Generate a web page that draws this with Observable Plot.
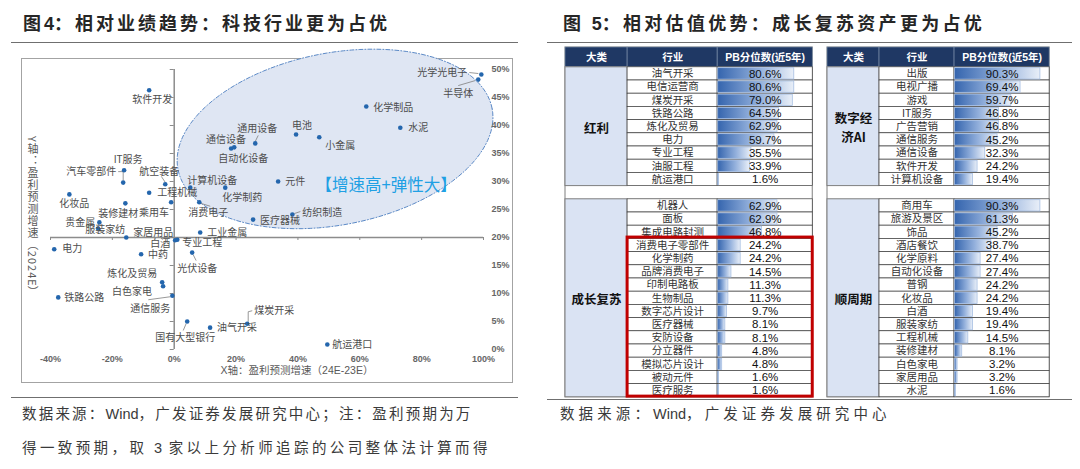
<!DOCTYPE html>
<html><head><meta charset="utf-8">
<script src="https://cdn.jsdelivr.net/npm/d3@7"></script>
<script src="https://cdn.jsdelivr.net/npm/@observablehq/plot@0.6"></script>
<style>
body{margin:0;width:1080px;height:469px;background:#fff;position:relative;overflow:hidden;font-family:"Noto Sans CJK SC",sans-serif;}
.abs{position:absolute;}
.title{font-size:18px;line-height:26px;font-weight:bold;color:#262626;letter-spacing:3px;white-space:nowrap;}
.hline{position:absolute;height:0;border-top:1.5px solid #6f6f6f;}
.src{font-size:14.5px;line-height:20px;color:#3a3a3a;letter-spacing:2.2px;white-space:nowrap;}
.lat{font-family:"Liberation Sans",Arial,sans-serif;letter-spacing:0;}
#ytitle{writing-mode:vertical-rl;text-orientation:mixed;font-size:11px;line-height:16px;letter-spacing:1px;color:#595959;white-space:nowrap;}
</style></head><body>
<div class="abs title" style="left:23px;top:9px">图<span class="lat">4</span>：相对业绩趋势：科技行业更为占优</div>
<div class="hline" style="left:11px;top:42px;width:507px"></div>
<div class="abs" style="left:21px;top:58px;width:490px;height:323px;border:1.5px solid #a3a3a3"></div>
<div id="scatter" class="abs" style="left:21px;top:58px"></div>
<div id="ytitle" class="abs" style="left:25px;top:136px"></div>
<div class="hline" style="left:11px;top:397px;width:507px"></div>
<div class="abs src" style="left:22px;top:403px">数据来源：<span class="lat">Wind</span>，广发证券发展研究中心；注：盈利预期为万</div>
<div class="abs src" style="left:22px;top:437px;letter-spacing:3.4px">得一致预期，取 <span class="lat">3</span> 家以上分析师追踪的公司整体法计算而得</div>

<div class="abs title" style="left:563px;top:9px;letter-spacing:3.3px">图 <span class="lat">5</span>：相对估值优势：成长复苏资产更为占优</div>
<div class="hline" style="left:547px;top:42px;width:525px"></div>
<div id="tableL" class="abs" style="left:564px;top:46px"></div>
<div id="tableR" class="abs" style="left:826px;top:46px"></div>
<div class="hline" style="left:547px;top:399px;width:525px"></div>
<div class="abs src" style="left:560px;top:403px;letter-spacing:4.1px">数据来源：<span class="lat">Wind</span>，广发证券发展研究中心</div>

<script>
// ---------------- Data: left scatter ----------------
const industries = ["软件开发","IT服务","汽车零部件","航空装备","工程机械","化妆品","装修建材","乘用车","计算机设备","化学制药",
  "消费电子","通信设备","自动化设备","通用设备","电池","小金属","化学制品","水泥","光学光电子","半导体",
  "元件","纺织制造","医疗器械","贵金属","服装家纺","家居用品","白酒","专业工程","工业金属","电力",
  "中药","光伏设备","炼化及贸易","白色家电","通信服务","铁路公路","国有大型银行","油气开采","煤炭开采","航运港口"];
// X: 盈利预测增速 (24E-23E), %
const growthChange = [-8.1,-16.2,-16.5,-2.9,-8.1,-33.9,-15.8,-1.0,5.2,16.5,
  8.1,18.4,19.4,26.2,39.4,46.9,62.1,73.1,99.3,98.3,
  33.6,38.2,25.5,-24.2,-24.6,-15.5,0.3,1.0,8.4,-38.8,
  -10.7,5.8,-3.9,-3.6,-0.6,-37.5,4.2,11.6,23.6,49.5];
// Y: 盈利预测增速 (2024E), %
const growth2024 = [46.3,32.0,29.8,29.5,28.0,27.7,26.1,26.3,28.9,28.9,
  26.3,35.9,36.1,36.8,38.4,37.9,43.4,39.6,49.1,48.2,
  30.0,24.1,23.2,22.7,21.6,20.0,19.5,19.6,20.9,17.9,
  17.0,17.3,12.0,11.3,9.6,9.3,5.0,3.9,4.6,0.9];
const xTicks = [-40,-20,0,20,40,60,80,100];
const yTicks = [0,5,10,15,20,25,30,35,40,45,50];
const xTitle = "X轴：盈利预测增速（24E-23E）";
const yTitle = "Y轴：盈利预测增速（2024E）";
const zoneText = "【增速高+弹性大】";

// ---------------- Data: right table ----------------
const hongliNames = ["油气开采","电信运营商","煤炭开采","铁路公路","炼化及贸易","电力","专业工程","油服工程","航运港口"];
const hongliPB = [80.6,80.6,79.0,64.5,62.9,59.7,35.5,33.9,1.6];
const growthNames = ["机器人","面板","集成电路封测","消费电子零部件","化学制药","品牌消费电子","印制电路板","生物制品","数字芯片设计","医疗器械","安防设备","分立器件","模拟芯片设计","被动元件","医疗服务"];
const growthPB = [62.9,62.9,46.8,24.2,24.2,14.5,11.3,11.3,9.7,8.1,8.1,4.8,4.8,1.6,1.6];
const digitalNames = ["出版","电视广播","游戏","IT服务","广告营销","通信服务","通信设备","软件开发","计算机设备"];
const digitalPB = [90.3,69.4,59.7,46.8,46.8,45.2,32.3,24.2,19.4];
const cyclicalNames = ["商用车","旅游及景区","饰品","酒店餐饮","化学原料","自动化设备","普钢","化妆品","白酒","服装家纺","工程机械","装修建材","白色家电","家居用品","水泥"];
const cyclicalPB = [90.3,61.3,45.2,38.7,27.4,27.4,24.2,24.2,19.4,19.4,14.5,8.1,3.2,3.2,1.6];
const headers = ["大类","行业","PB分位数(近5年)"];
const highlightFrom = "消费电子零部件", highlightTo = "医疗服务";

// ---------------- Layout (kept apart from the data) ----------------
// label placement relative to the point: [dx px, dy px, anchor]
const labelLayout = {
 "软件开发":[3,10,"middle"],"IT服务":[4,-11,"middle"],"汽车零部件":[-7,-11,"end"],"航空装备":[-6,-13,"middle"],
 "工程机械":[8,0,"start"],"化妆品":[5,9,"middle"],"装修建材":[13,10,"end"],"乘用车":[-32,11,"start"],
 "计算机设备":[-3,-7,"start"],"化学制药":[-3,10,"start"],"消费电子":[-11,11,"start"],"通信设备":[-5,-9,"middle"],
 "自动化设备":[9,11,"middle"],"通用设备":[2,-15,"middle"],"电池":[6,-9,"middle"],"小金属":[6,9,"start"],
 "化学制品":[7,1,"start"],"水泥":[8,0,"start"],"光学光电子":[-14,-2,"end"],"半导体":[-5,14,"end"],
 "元件":[7,0,"start"],"纺织制造":[10,-2,"start"],"医疗器械":[7,1,"start"],"贵金属":[-4,0,"end"],
 "服装家纺":[-13,1,"start"],"家居用品":[7,-5,"start"],"白酒":[-5,3,"end"],"专业工程":[5,3,"start"],
 "工业金属":[7,0,"start"],"电力":[8,0,"start"],"中药":[7,0,"start"],"光伏设备":[-15,16,"start"],
 "炼化及贸易":[-5,-9,"end"],"白色家电":[-11,6,"end"],"通信服务":[-2,13,"end"],"铁路公路":[6,0,"start"],
 "国有大型银行":[-2,16,"middle"],"油气开采":[7,0,"start"],"煤炭开采":[7,-13,"start"],"航运港口":[5,0,"start"]
};
// leader segments relative to the point: [name, dx1, dy1, dx2, dy2]
const leaderLayout = [
 ["汽车零部件",-5,-11,0,-11],["汽车零部件",0,-11,0,-2],["航空装备",-4,-8,0,-2],["消费电子",1,1,11,4],
 ["通用设备",0,-2,3,-8],["光学光电子",-3,-1,-12,-2],["半导体",-3,1,-20,6],["纺织制造",2,-1,8,-3],
 ["光伏设备",1,2,4,8],["通信服务",-2,1,-24,4],["国有大型银行",-1,2,-4,9],["煤炭开采",1,-2,1,-12],["煤炭开采",1,-12,5,-13]
];
// annotation ellipse (data units for centre, px for radii), tilt in degrees
const zone = {cx: 52, cy: 37.6, a: 160, b: 86, tilt: 11, textX: 68.5, textY: 29.3};

// ---------------- Left scatter ----------------
const W = 492, H = 325, mL = 29, mR = 30, mT = 11, mB = 34;
const xDom = [-40, 100], yDom = [0, 50];
const kx = (W - mL - mR) / (xDom[1] - xDom[0]);
const ky = (H - mT - mB) / (yDom[1] - yDom[0]);
const pts = industries.map((n, i) => ({name: n, x: growthChange[i], y: growth2024[i]}));
const byName = Object.fromEntries(pts.map(d => [d.name, d]));
const labels = pts.map(d => {
  const [dx, dy, anchor] = labelLayout[d.name];
  return {name: d.name, lx: d.x + dx / kx, ly: d.y - dy / ky, anchor};
});
const leaders = leaderLayout.map(([n, a, b, c, e]) => {
  const p = byName[n];
  return {x1: p.x + a / kx, y1: p.y - b / ky, x2: p.x + c / kx, y2: p.y - e / ky};
});
const ell = d3.range(0, 121).map(i => {
  const t = i / 120 * 2 * Math.PI, f = zone.tilt * Math.PI / 180;
  const px = zone.a * Math.cos(t) * Math.cos(f) - zone.b * Math.sin(t) * Math.sin(f);
  const py = zone.a * Math.cos(t) * Math.sin(f) + zone.b * Math.sin(t) * Math.cos(f);
  return {x: zone.cx + px / kx, y: zone.cy + py / ky};
});
const labelFont = "'Noto Sans CJK SC', sans-serif";
const textMark = (anchor) => Plot.text(labels.filter(d => d.anchor === anchor), {
  x: "lx", y: "ly", text: "name", textAnchor: anchor, fontSize: 10, fill: "#4d4d4d",
  fontFamily: labelFont, ariaLabel: "lbl"
});
const scatter = Plot.plot({
  width: W, height: H, marginLeft: mL, marginRight: mR, marginTop: mT, marginBottom: mB,
  style: {fontFamily: "'Liberation Sans', Arial, sans-serif", fontSize: "9px", color: "#595959", background: "transparent", overflow: "visible"},
  x: {domain: xDom, label: null, axis: null},
  y: {domain: yDom, label: null, axis: null},
  marks: [
    Plot.line(ell, {x: "x", y: "y", fill: "#dfe6f3", stroke: "#5b89c6", strokeWidth: 1, strokeDasharray: "4,2,1,2"}),
    Plot.text([zoneText], {x: zone.textX, y: zone.textY, text: d => d, fill: "#20a0e4", fontSize: 16.5, fontFamily: labelFont, ariaLabel: "zone"}),
    Plot.ruleX([0], {y1: yDom[0], y2: yDom[1], stroke: "#8c8c8c", strokeWidth: 1.5}),
    Plot.ruleY([20], {x1: xDom[0], x2: xDom[1], stroke: "#8c8c8c", strokeWidth: 1.5}),
    Plot.ruleY(yTicks, {x1: 0, x2: -4 / kx, stroke: "#8c8c8c", strokeWidth: 1}),
    Plot.ruleX(xTicks.filter(d => d !== 0), {y1: 20, y2: 20 - 3 / ky, stroke: "#8c8c8c", strokeWidth: 1}),
    Plot.axisX({ticks: xTicks, tickSize: 0, tickPadding: 6, tickFormat: d => d + "%", label: null, fill: "#666", fontWeight: "bold"}),
    Plot.axisY({anchor: "right", ticks: yTicks, tickSize: 0, tickPadding: 8, tickFormat: d => d + "%", label: null, fill: "#666", fontWeight: "bold"}),
    Plot.link(leaders, {x1: "x1", y1: "y1", x2: "x2", y2: "y2", stroke: "#7f7f7f", strokeWidth: 0.8}),
    Plot.dot(pts, {x: "x", y: "y", r: 2.3, fill: "#2466ad"}),
    textMark("start"), textMark("middle"), textMark("end"),
    Plot.text([xTitle], {frameAnchor: "bottom", dy: 24, dx: 30, text: d => d, fontSize: 10.5, fill: "#595959", fontFamily: "'Liberation Sans', 'Noto Sans CJK SC', sans-serif", ariaLabel: "xtitle"})
  ]
});
document.getElementById("scatter").appendChild(scatter);
document.getElementById("ytitle").textContent = yTitle;
scatter.querySelectorAll('g[aria-label="lbl"] text').forEach(t => t.style.letterSpacing = "0.9px");
scatter.querySelectorAll('g[aria-label="zone"] text').forEach(t => t.style.letterSpacing = "1.5px");
scatter.querySelectorAll('g[aria-label="xtitle"] text').forEach(t => t.style.letterSpacing = "1px");

// ---------------- Right tables ----------------
function tableHalf(groups, catW, indW, gradId, highlight) {
  const unitPx = 0.951, rowPx = 13.2, head = 1.5;
  const x0 = -(catW + indW), xi = x0 + catW;
  const rows = [], cats = [];
  let y = head;
  groups.forEach((g, gi) => {
    if (gi > 0) y += 1;
    const y0 = y;
    g.names.forEach((n, i) => { rows.push({name: n, value: g.values[i], y1: y, y2: y + 1}); y += 1; });
    cats.push({label: g.label, y1: y0, y2: y});
  });
  const total = y;
  const hd = [{t: headers[0], x1: x0, x2: xi}, {t: headers[1], x1: xi, x2: 0}, {t: headers[2], x1: 0, x2: 100}];
  const marks = [
    Plot.rect([0], {x1: x0, x2: 100, y1: 0, y2: total, fill: "white", stroke: "#7f7f7f", strokeWidth: 1}),
    Plot.rect(hd, {x1: "x1", x2: "x2", y1: 0, y2: head, fill: "#1f3864", stroke: "#8497b0", strokeWidth: 0.6}),
    Plot.text(hd, {x: d => (d.x1 + d.x2) / 2, y: head / 2, text: "t", fill: "white", fontWeight: "bold", fontSize: 10.5, fontFamily: "'Liberation Sans','Noto Sans CJK SC',sans-serif"}),
    Plot.rect(cats, {x1: x0, x2: xi, y1: "y1", y2: "y2", fill: "#dae3f3", stroke: "#7f7f7f", strokeWidth: 1}),
    Plot.rect(rows, {x1: xi, x2: 0, y1: "y1", y2: "y2", fill: "white", stroke: "#3a3a3a", strokeWidth: 0.7}),
    Plot.rect(rows, {x1: 0, x2: 100, y1: "y1", y2: "y2", fill: "white", stroke: "#3a3a3a", strokeWidth: 0.7}),
    Plot.rect(rows, {x1: 0, x2: "value", y1: d => d.y1 + 0.07, y2: d => d.y2 - 0.07, fill: `url(#${gradId})`, stroke: "#9cb7df", strokeWidth: 0.7, insetLeft: 0.6}),
    Plot.text(rows, {x: xi + indW / 2, y: d => (d.y1 + d.y2) / 2, text: "name", fontSize: 10.5, fill: "#333", fontFamily: "'Noto Sans CJK SC',sans-serif", ariaLabel: "names"}),
    Plot.text(rows, {x: 50, y: d => (d.y1 + d.y2) / 2, text: d => d.value.toFixed(1) + "%", fontSize: 11.5, fill: "#111", fontFamily: "'Liberation Sans',Arial,sans-serif"}),
    Plot.text(cats, {x: x0 + catW / 2, y: d => (d.y1 + d.y2) / 2, text: "label", fontSize: 12.5, fontWeight: "bold", fill: "#111", lineHeight: 1.5, fontFamily: "'Noto Sans CJK SC','Liberation Sans',sans-serif", ariaLabel: "cats"})
  ];
  if (highlight) {
    const a = rows.find(r => r.name === highlight[0]), b = rows.find(r => r.name === highlight[1]);
    marks.push(Plot.rect([0], {x1: xi, x2: 100, y1: a.y1 - 0.1, y2: b.y2 - 0.05, fill: "none", stroke: "#c00000", strokeWidth: 3}));
  }
  const widthPx = (100 - x0) * unitPx;
  const svg = Plot.plot({
    width: widthPx + 4, height: total * rowPx + 2, marginLeft: 1, marginRight: 3, marginTop: 1, marginBottom: 1,
    style: {background: "transparent", overflow: "visible"},
    x: {domain: [x0, 100], axis: null}, y: {domain: [0, total], reverse: true, axis: null},
    marks
  });
  const ns = "http://www.w3.org/2000/svg";
  const defs = document.createElementNS(ns, "defs");
  defs.innerHTML = `<linearGradient id="${gradId}" x1="0" y1="0" x2="1" y2="0"><stop offset="0" stop-color="#3565ae"/><stop offset="0.55" stop-color="#93b0dc"/><stop offset="1" stop-color="#e9eff8"/></linearGradient>`;
  svg.insertBefore(defs, svg.firstChild);
  svg.querySelectorAll('g[aria-label="names"] text').forEach(t => t.style.letterSpacing = "1.8px");
  svg.querySelectorAll('g[aria-label="cats"] text').forEach(t => t.style.letterSpacing = "3px");
  return svg;
}
document.getElementById("tableL").appendChild(tableHalf([
  {label: "红利", names: hongliNames, values: hongliPB},
  {label: "成长复苏", names: growthNames, values: growthPB}
], 65.3, 94.7, "gradL", [highlightFrom, highlightTo]));
document.getElementById("tableR").appendChild(tableHalf([
  {label: "数字经\n济AI", names: digitalNames, values: digitalPB},
  {label: "顺周期", names: cyclicalNames, values: cyclicalPB}
], 54.7, 78.9, "gradR", null));
</script>
</body></html>
